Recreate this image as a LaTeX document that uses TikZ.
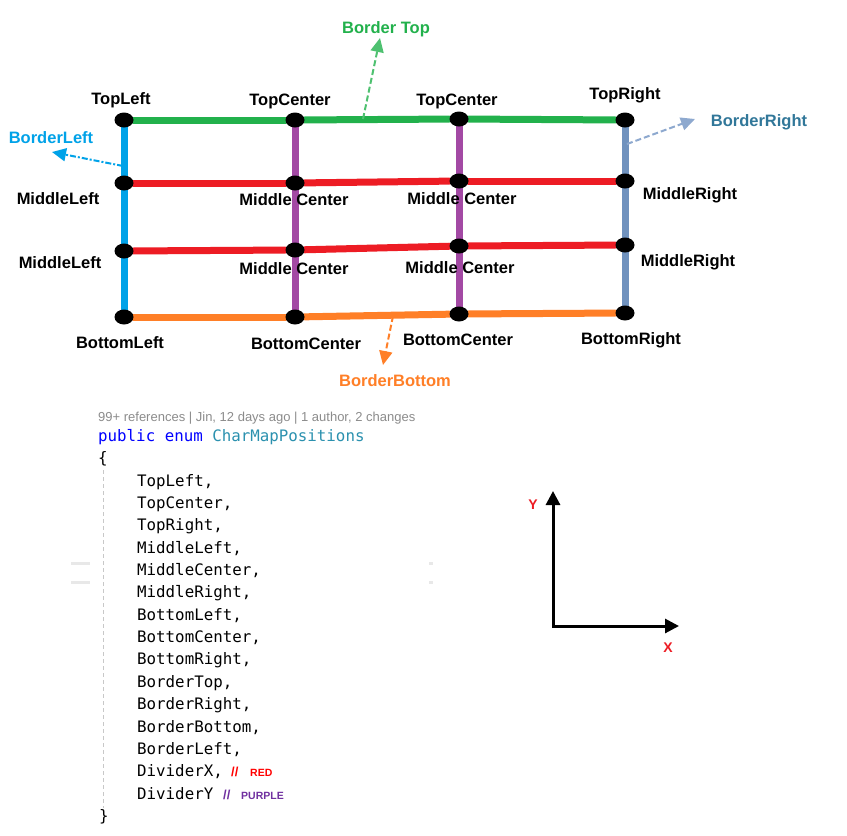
\documentclass[tikz,border=0pt]{standalone}
\usepackage{fontspec}
\setmainfont{Liberation Sans}
\newfontfamily\codefont{DejaVu Sans Mono}
\newfontfamily\uifont{Liberation Sans}
\usetikzlibrary{shapes.geometric,backgrounds,arrows.meta}
\definecolor{cgreen}{RGB}{34,177,76}
\definecolor{cblue}{RGB}{0,162,232}
\definecolor{cpurple}{RGB}{163,73,164}
\definecolor{cred}{RGB}{237,28,36}
\definecolor{corange}{RGB}{255,127,39}
\definecolor{csteel}{RGB}{112,146,190}
\definecolor{cbrtext}{RGB}{49,119,153}
\definecolor{cbrarrow}{RGB}{142,169,207}
\definecolor{kwblue}{RGB}{0,0,255}
\definecolor{typeteal}{RGB}{43,145,175}
\definecolor{cpurpletext}{RGB}{112,48,160}
\definecolor{greytext}{RGB}{140,140,140}
\definecolor{guide}{RGB}{200,200,200}
\definecolor{faint}{RGB}{232,232,232}
\begin{document}
\begin{tikzpicture}[x=1pt,y=-1pt,
  dot/.style={ellipse,fill=black,minimum width=19pt,minimum height=15pt,inner sep=0pt},
  lbl/.style={font=\bfseries\fontsize{16.5}{18}\selectfont,text=black,inner sep=0pt,anchor=base},
  alabel/.style={font=\bfseries\fontsize{16.5}{18}\selectfont,inner sep=0pt,anchor=base},
  edge/.style={line width=7pt,line cap=round},
  ann/.style={line width=2pt,dash pattern=on 6pt off 3pt,-{Triangle[length=14pt,width=13pt]}},
  codeline/.style={font=\codefont\fontsize{15.8}{18}\selectfont,anchor=base west,inner sep=0pt,text=black},
  cmt/.style={font=\bfseries\fontsize{10.5}{12}\selectfont,anchor=base west,inner sep=0pt},
  slash/.style={font=\bfseries\fontsize{13}{14}\selectfont,anchor=base west,inner sep=0pt},
  axis/.style={line width=3pt,{Triangle[length=14pt,width=14pt]}-{Triangle[length=14pt,width=14pt]}}
]
\useasboundingbox (0,0) rectangle (847,836);

% ---- dots ----
\node[dot] (TL) at (124,120) {};
\node[dot] (TC1) at (295,120) {};
\node[dot] (TC2) at (459,119) {};
\node[dot] (TR) at (625,120) {};
\node[dot] (ML1) at (124,183) {};
\node[dot] (MC11) at (295,183) {};
\node[dot] (MC12) at (459,181) {};
\node[dot] (MR1) at (625,181) {};
\node[dot] (ML2) at (124,251) {};
\node[dot] (MC21) at (295,250) {};
\node[dot] (MC22) at (459,246) {};
\node[dot] (MR2) at (625,245) {};
\node[dot] (BL) at (124,317) {};
\node[dot] (BC1) at (295,317) {};
\node[dot] (BC2) at (459,314) {};
\node[dot] (BR) at (625,313) {};

\begin{pgfonlayer}{background}
\fill[white] (0,0) rectangle (847,836);
% verticals
\draw[edge,cblue] (TL) -- (ML1);
\draw[edge,cblue] (ML1) -- (ML2);
\draw[edge,cblue] (ML2) -- (BL);
\draw[edge,cpurple] (TC1) -- (MC11);
\draw[edge,cpurple] (MC11) -- (MC21);
\draw[edge,cpurple] (MC21) -- (BC1);
\draw[edge,cpurple] (TC2) -- (MC12);
\draw[edge,cpurple] (MC12) -- (MC22);
\draw[edge,cpurple] (MC22) -- (BC2);
\draw[edge,csteel] (TR) -- (MR1);
\draw[edge,csteel] (MR1) -- (MR2);
\draw[edge,csteel] (MR2) -- (BR);
% horizontals
\draw[edge,cgreen] (TL) -- (TC1);
\draw[edge,cgreen] (TC1) -- (TC2);
\draw[edge,cgreen] (TC2) -- (TR);
\draw[edge,cred] (ML1) -- (MC11);
\draw[edge,cred] (MC11) -- (MC12);
\draw[edge,cred] (MC12) -- (MR1);
\draw[edge,cred] (ML2) -- (MC21);
\draw[edge,cred] (MC21) -- (MC22);
\draw[edge,cred] (MC22) -- (MR2);
\draw[edge,corange] (BL) -- (BC1);
\draw[edge,corange] (BC1) -- (BC2);
\draw[edge,corange] (BC2) -- (BR);
\end{pgfonlayer}

% ---- position labels ----
\node[lbl] (lTL) at (121,104) {TopLeft};
\node[lbl] (lTC1) at (290,105) {TopCenter};
\node[lbl] (lTC2) at (457,105) {TopCenter};
\node[lbl] (lTR) at (625,99) {TopRight};
\node[lbl] (lML1) at (58,204) {MiddleLeft};
\node[lbl] (lMC11) at (294,205) {Middle Center};
\node[lbl] (lMC12) at (462,204) {Middle Center};
\node[lbl] (lMR1) at (690,199) {MiddleRight};
\node[lbl] (lML2) at (60,268) {MiddleLeft};
\node[lbl] (lMC21) at (294,274) {Middle Center};
\node[lbl] (lMC22) at (460,273) {Middle Center};
\node[lbl] (lMR2) at (688,266) {MiddleRight};
\node[lbl] (lBL) at (120,348) {BottomLeft};
\node[lbl] (lBC1) at (306,349) {BottomCenter};
\node[lbl] (lBC2) at (458,345) {BottomCenter};
\node[lbl] (lBR) at (631,344) {BottomRight};

% ---- border annotations ----
\node[alabel,text=cgreen] (aTop) at (386,33) {Border Top};
\node[alabel,text=cblue] (aLeft) at (51,143) {BorderLeft};
\node[alabel,text=cbrtext] (aRight) at (759,126) {BorderRight};
\node[alabel,text=corange] (aBottom) at (395,386) {BorderBottom};
\coordinate (sTop) at (363,119);
\coordinate (tTop) at (380,38);
\coordinate (sLeft) at (123,166);
\coordinate (tLeft) at (52,152);
\coordinate (sRight) at (627,144);
\coordinate (tRight) at (695,119);
\coordinate (sBottom) at (393,316);
\coordinate (tBottom) at (383,365);
\draw[ann,cgreen!80!white] (sTop) -- (tTop);
\draw[ann,cblue,dash pattern=on 6pt off 2pt on 2pt off 2pt] (sLeft) -- (tLeft);
\draw[ann,cbrarrow] (sRight) -- (tRight);
\draw[ann,corange] (sBottom) -- (tBottom);

% ---- code ----
\node[font=\uifont\fontsize{13}{15}\selectfont,text=greytext,anchor=base west,inner sep=0pt] (hdr) at (98,421) {99+ references | Jin, 12 days ago | 1 author, 2 changes};
\node[codeline] (decl) at (98,441) {\textcolor{kwblue}{public enum} \textcolor{typeteal}{CharMapPositions}};
\node[codeline] (obr) at (98,463) {\{};
\node[codeline] (c0) at (137,486.0) {TopLeft,};
\node[codeline] (c1) at (137,508.4) {TopCenter,};
\node[codeline] (c2) at (137,530.7) {TopRight,};
\node[codeline] (c3) at (137,553.1) {MiddleLeft,};
\node[codeline] (c4) at (137,575.4) {MiddleCenter,};
\node[codeline] (c5) at (137,597.8) {MiddleRight,};
\node[codeline] (c6) at (137,620.2) {BottomLeft,};
\node[codeline] (c7) at (137,642.5) {BottomCenter,};
\node[codeline] (c8) at (137,664.9) {BottomRight,};
\node[codeline] (c9) at (137,687.2) {BorderTop,};
\node[codeline] (c10) at (137,709.6) {BorderRight,};
\node[codeline] (c11) at (137,732.0) {BorderBottom,};
\node[codeline] (c12) at (137,754.3) {BorderLeft,};
\node[codeline] (c13) at (137,776.7) {DividerX,};
\node[codeline] (c14) at (137,799.0) {DividerY};
\node[codeline] (cbr) at (99,821.4) {\}};
\node[slash,text=red] (s1) at (231,776.7) {//};
\node[cmt,text=red] (r1) at (250,776.7) {RED};
\node[slash,text=cpurpletext] (s2) at (223,799.0) {//};
\node[cmt,text=cpurpletext] (r2) at (241,799.0) {PURPLE};
\coordinate (g1) at (103,470);
\coordinate (g2) at (103,808);
\draw[guide,line width=1pt,dash pattern=on 4pt off 3pt] (g1) -- (g2);
% faint marks
\fill[faint] (71,562) rectangle (90,565);
\fill[faint] (71,581) rectangle (90,584);
\fill[faint] (429,562) rectangle (433,565);
\fill[faint] (429,581) rectangle (433,584);

% ---- axes ----
\coordinate (O) at (553,626);
\coordinate (Yt) at (553,491);
\coordinate (Xt) at (679,626);
\draw[axis,line join=miter] (Yt) -- (O) -- (Xt);
\node[font=\bfseries\fontsize{14}{16}\selectfont,text=cred,anchor=base,inner sep=0pt] (ylab) at (533,509) {Y};
\node[font=\bfseries\fontsize{14}{16}\selectfont,text=cred,anchor=base,inner sep=0pt] (xlab) at (668,652) {X};
\end{tikzpicture}
\end{document}
